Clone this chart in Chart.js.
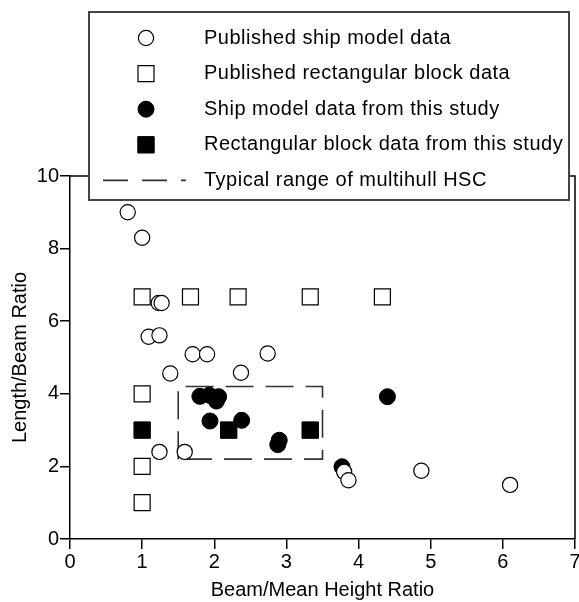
<!DOCTYPE html>
<html>
<head>
<meta charset="utf-8">
<script src="https://cdn.jsdelivr.net/npm/chart.js@4.4.1/dist/chart.umd.min.js"></script>
<style>
  body { margin: 0; background: #fff; }
  canvas { display: block; }
</style>
</head>
<body>
<canvas id="ratioChart" width="579" height="602"></canvas>
<script>
// data
const publishedShipX = [0.8, 1.0, 1.23, 1.27, 1.09, 1.24, 1.70, 1.90, 2.74, 1.39, 2.37, 1.24, 1.59, 3.80, 3.86, 4.87, 6.10];
const publishedShipY = [9.0, 8.3, 6.5, 6.5, 5.57, 5.61, 5.09, 5.09, 5.11, 4.56, 4.58, 2.4, 2.4, 1.85, 1.62, 1.88, 1.49];

const publishedBlockX = [1.0, 1.67, 2.33, 3.33, 4.33, 1.0, 1.0, 1.0];
const publishedBlockY = [6.67, 6.67, 6.67, 6.67, 6.67, 4.0, 2.0, 1.0];

const shipStudyX = [1.80, 1.93, 2.06, 2.03, 1.94, 2.38, 2.90, 2.88, 3.77, 4.40];
const shipStudyY = [3.93, 3.96, 3.92, 3.80, 3.25, 3.27, 2.72, 2.60, 1.99, 3.92];

const blockStudyX = [1.0, 2.2, 3.33];
const blockStudyY = [3.0, 3.0, 3.0];

// typical multihull HSC range (box corners)
const hscRangeX = [1.5, 1.5, 3.5, 3.5, 1.5];
const hscRangeY = [2.2, 4.2, 4.2, 2.2, 2.2];

const legendLabels = [
    'Published ship model data',
    'Published rectangular block data',
    'Ship model data from this study',
    'Rectangular block data from this study',
    'Typical range of multihull HSC'
];

const xTitle = 'Beam/Mean Height Ratio';
const yTitle = 'Length/Beam Ratio';

const FONT = '"Liberation Sans", Arial, sans-serif';
const DASH = [28, 12];

const toPoints = (xs, ys) => xs.map((x, i) => ({ x: x, y: ys[i] }));

// frame on top & right of plot
const framePlugin = {
    id: 'frame',
    beforeDatasetsDraw(chart) {
        const { ctx, chartArea } = chart;
        ctx.save();
        ctx.strokeStyle = '#000';
        ctx.lineWidth = 1.5;
        ctx.beginPath();
        ctx.moveTo(chartArea.left, chartArea.top);
        ctx.lineTo(chartArea.right, chartArea.top);
        ctx.lineTo(chartArea.right, chartArea.bottom);
        ctx.stroke();
        ctx.restore();
    }
};

// boxed legend that sits over the top of the plot
const boxLegendPlugin = {
    id: 'boxLegend',
    afterDraw(chart) {
        const ctx = chart.ctx;
        const box = { x: 89, y: 12, w: 480, h: 188 };
        ctx.save();
        ctx.fillStyle = '#fff';
        ctx.fillRect(box.x, box.y, box.w, box.h);
        ctx.strokeStyle = '#444';
        ctx.lineWidth = 2;
        ctx.strokeRect(box.x, box.y, box.w, box.h);

        const symX = 146, textX = 204;
        ctx.font = '20px ' + FONT;
        ctx.textBaseline = 'middle';
        ctx.textAlign = 'left';
        legendLabels.forEach((label, i) => {
            const y = 38 + i * 35.6;
            const ds = chart.data.datasets[i];
            if (i < 4) {
                ctx.fillStyle = ds.backgroundColor;
                ctx.strokeStyle = ds.borderColor;
                ctx.lineWidth = ds.borderWidth;
                ctx.beginPath();
                if (ds.pointStyle === 'circle') {
                    ctx.arc(symX, y, ds.pointRadius, 0, Math.PI * 2);
                } else {
                    const s = ds.pointRadius * Math.SQRT1_2;
                    ctx.rect(symX - s, y - s, 2 * s, 2 * s);
                }
                ctx.fill();
                ctx.stroke();
            } else {
                ctx.strokeStyle = ds.borderColor;
                ctx.lineWidth = ds.borderWidth;
                ctx.setLineDash([25, 14]);
                ctx.beginPath();
                ctx.moveTo(103, y);
                ctx.lineTo(186, y);
                ctx.stroke();
                ctx.setLineDash([]);
            }
            ctx.fillStyle = '#000';
            ctx.letterSpacing = '0.5px';
            ctx.fillText(label, textX, y);
            ctx.letterSpacing = '0px';
        });
        ctx.restore();
    }
};

const ctx = document.getElementById('ratioChart').getContext('2d');
new Chart(ctx, {
    type: 'scatter',
    data: {
        datasets: [
            {
                label: legendLabels[0],
                data: toPoints(publishedShipX, publishedShipY),
                pointStyle: 'circle',
                pointRadius: 7.6,
                backgroundColor: '#fff',
                borderColor: '#000',
                borderWidth: 1.2
            },
            {
                label: legendLabels[1],
                data: toPoints(publishedBlockX, publishedBlockY),
                pointStyle: 'rect',
                pointRadius: 11.3,
                backgroundColor: '#fff',
                borderColor: '#000',
                borderWidth: 1.2
            },
            {
                label: legendLabels[2],
                data: toPoints(shipStudyX, shipStudyY),
                pointStyle: 'circle',
                pointRadius: 8,
                backgroundColor: '#000',
                borderColor: '#000',
                borderWidth: 1
            },
            {
                label: legendLabels[3],
                data: toPoints(blockStudyX, blockStudyY),
                pointStyle: 'rect',
                pointRadius: 11.6,
                backgroundColor: '#000',
                borderColor: '#000',
                borderWidth: 1
            },
            {
                label: legendLabels[4],
                data: toPoints(hscRangeX, hscRangeY),
                showLine: true,
                pointRadius: 0,
                borderColor: '#333',
                borderWidth: 1.6,
                borderDash: DASH,
                fill: false
            }
        ]
    },
    options: {
        responsive: false,
        animation: false,
        layout: { autoPadding: false, padding: { top: 176, right: 4, left: 0, bottom: 0 } },
        plugins: {
            legend: { display: false },
            tooltip: { enabled: false }
        },
        scales: {
            x: {
                type: 'linear',
                min: 0,
                max: 7,
                afterFit: (scale) => {
                    scale.height = 63;
                    scale.paddingLeft = 0;
                    scale.paddingRight = 0;
                },
                ticks: { stepSize: 1, color: '#000', padding: 1, font: { family: FONT, size: 20 } },
                grid: { drawOnChartArea: false, drawTicks: true, tickLength: 10, color: '#000', lineWidth: 1.5 },
                border: { display: true, color: '#000', width: 1.5 },
                title: { display: true, text: xTitle, color: '#000', padding: 0, font: { family: FONT, size: 20 } }
            },
            y: {
                type: 'linear',
                min: 0,
                max: 10,
                afterFit: (scale) => { scale.width = 70; },
                ticks: { stepSize: 2, color: '#000', padding: 1, font: { family: FONT, size: 20 } },
                grid: { drawOnChartArea: false, drawTicks: true, tickLength: 10, color: '#000', lineWidth: 1.5 },
                border: { display: true, color: '#000', width: 1.5 },
                title: { display: true, text: yTitle, color: '#000', padding: { top: 8, bottom: 0 }, font: { family: FONT, size: 20 } }
            }
        }
    },
    plugins: [framePlugin, boxLegendPlugin]
});
</script>
</body>
</html>
